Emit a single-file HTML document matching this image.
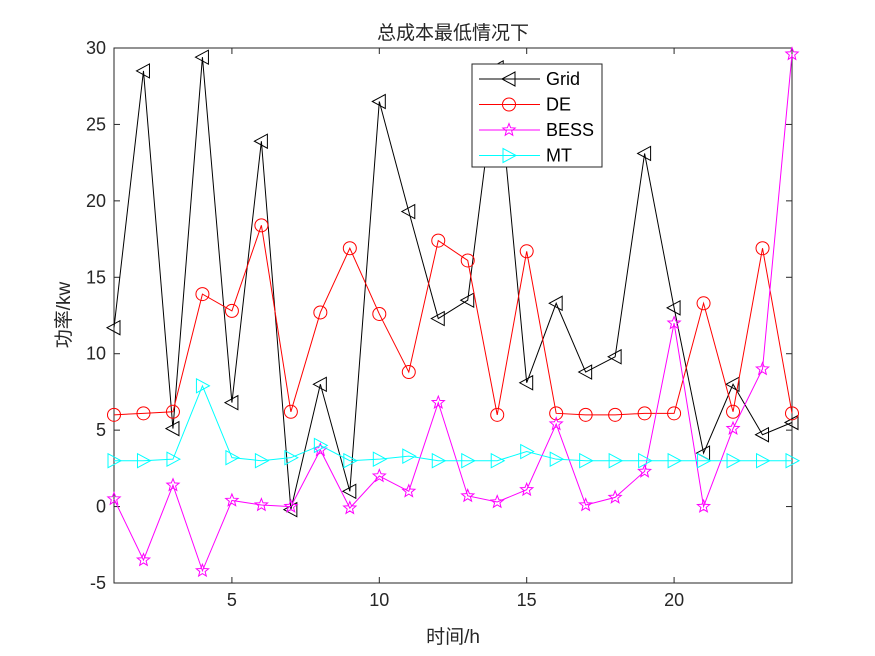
<!DOCTYPE html><html><head><meta charset="utf-8"><style>body{margin:0;background:#fff}svg{display:block}text{font-family:"Liberation Sans","Noto Sans CJK SC",sans-serif}</style></head><body>
<svg id="s" width="875" height="656" xmlns="http://www.w3.org/2000/svg"></svg>
<script>
const L=114,R=792,T=48,B=583;
const X=i=>L+(i-1)*(R-L)/23, Y=v=>T+(30-v)*(B-T)/35;
const d={Grid:[11.7,28.5,5.1,29.4,6.8,23.9,-0.2,8.0,1.0,26.5,19.3,12.3,13.5,28.7,8.1,13.3,8.8,9.8,23.1,13.0,3.5,8.0,4.7,5.5],
DE:[6.0,6.1,6.2,13.9,12.8,18.4,6.2,12.7,16.9,12.6,8.8,17.4,16.1,6.0,16.7,6.1,6.0,6.0,6.1,6.1,13.3,6.2,16.9,6.1],
BESS:[0.5,-3.5,1.4,-4.2,0.4,0.1,0.0,3.7,-0.1,2.0,1.0,6.8,0.7,0.3,1.1,5.4,0.1,0.6,2.3,12.0,0.0,5.1,9.0,29.6],
MT:[3.0,3.0,3.1,7.9,3.2,3.0,3.2,4.0,3.0,3.1,3.3,3.0,3.0,3.0,3.6,3.1,3.0,3.0,3.0,3.0,3.0,3.0,3.0,3.0]};
const col={Grid:"#000",DE:"#f00",BESS:"#f0f",MT:"#0ff"};
function mk(k,x,y){const c=col[k];
 if(k=="Grid")return `<polygon points="${x-7},${y} ${x+6},${y-7} ${x+6},${y+7}" fill="none" stroke="${c}"/>`;
 if(k=="MT")return `<polygon points="${x+7},${y} ${x-6},${y-7} ${x-6},${y+7}" fill="none" stroke="${c}"/>`;
 if(k=="DE")return `<circle cx="${x}" cy="${y}" r="6.5" fill="none" stroke="${c}"/>`;
 let p=[];for(let i=0;i<10;i++){const r=i%2?2.8:6.5,a=-Math.PI/2+i*Math.PI/5;p.push((x+r*Math.cos(a)).toFixed(1)+","+(y+r*Math.sin(a)).toFixed(1))}
 return `<polygon points="${p.join(" ")}" fill="none" stroke="${c}"/>`;}
let h=`<rect x="${L}" y="${T}" width="${R-L}" height="${B-T}" fill="#fff" stroke="#262626"/>`;
for(let v=-5;v<=30;v+=5){const y=Y(v);h+=`<line x1="${L}" x2="${L+6}" y1="${y}" y2="${y}" stroke="#262626"/><line x1="${R}" x2="${R-6}" y1="${y}" y2="${y}" stroke="#262626"/><text x="${L-8}" y="${y+6}" font-size="18" text-anchor="end" fill="#262626">${v}</text>`}
for(let v=5;v<=20;v+=5){const x=X(v);h+=`<line x1="${x}" x2="${x}" y1="${B}" y2="${B-6}" stroke="#262626"/><line x1="${x}" x2="${x}" y1="${T}" y2="${T+6}" stroke="#262626"/><text x="${x}" y="${B+23}" font-size="18" text-anchor="middle" fill="#262626">${v}</text>`}
for(const k in d){h+=`<polyline fill="none" stroke="${col[k]}" points="${d[k].map((v,i)=>X(i+1)+","+Y(v)).join(" ")}"/>`;d[k].forEach((v,i)=>h+=mk(k,X(i+1),Y(v)));}
h+=`<rect x="472" y="64" width="130" height="103" fill="#fff" stroke="#262626"/>`;
Object.keys(d).forEach((k,i)=>{const y=79+i*25.5;h+=`<line x1="479" x2="540" y1="${y}" y2="${y}" stroke="${col[k]}"/>`+mk(k,509,y)+`<text x="546" y="${y+6}" font-size="18">${k}</text>`});
h+=`<text x="453" y="39" font-size="19" text-anchor="middle" fill="#262626">总成本最低情况下</text>`;
h+=`<text x="453" y="643" font-size="19" text-anchor="middle" fill="#262626">时间/h</text>`;
h+=`<text transform="translate(70,315) rotate(-90)" font-size="19" text-anchor="middle" fill="#262626">功率/kw</text>`;
document.getElementById("s").innerHTML=h;
</script></body></html>
